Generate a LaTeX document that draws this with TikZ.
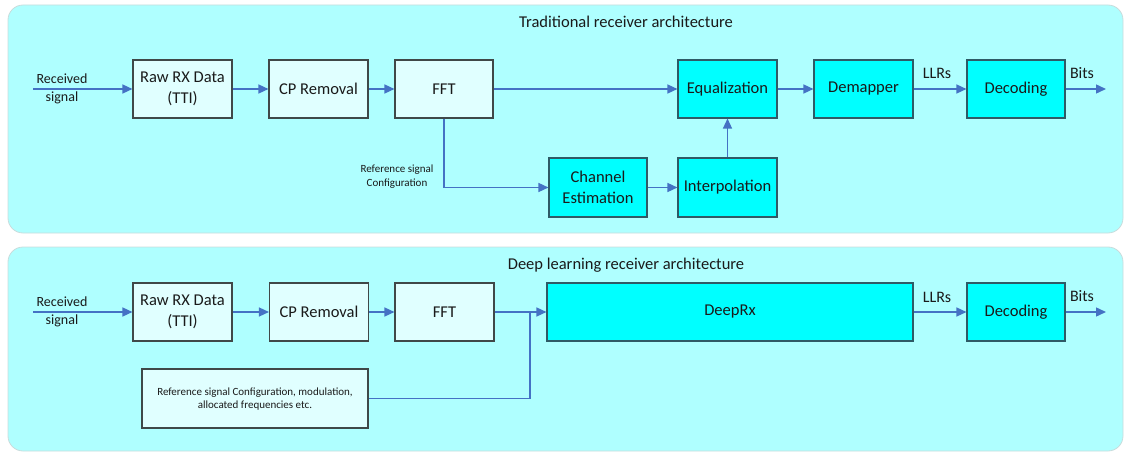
\documentclass[tikz,border=0pt]{standalone}
\usepackage{fontspec}
\setmainfont{Carlito}
\usetikzlibrary{arrows.meta}
\definecolor{panelfill}{HTML}{AFFFFF}
\definecolor{paneledge}{HTML}{C8DCDC}
\definecolor{lightfill}{HTML}{E0FFFF}
\definecolor{darkfill}{HTML}{00FFFF}
\definecolor{lightedge}{HTML}{404848}
\definecolor{darkedge}{HTML}{2E5A66}
\definecolor{arrowblue}{HTML}{4472C4}
\definecolor{txt}{HTML}{1A1A1A}
\tikzset{
  panel/.style={fill=panelfill, draw=paneledge, line width=0.8pt, rounded corners=15pt},
  lbox/.style={draw=lightedge, fill=lightfill, line width=1.1pt, minimum width=99pt, minimum height=58pt, inner sep=0pt, align=center, text=txt, font=\fontsize{16.5}{20.5}\selectfont},
  dbox/.style={lbox, draw=darkedge, fill=darkfill},
  flow/.style={draw=arrowblue, line width=1.4pt, -{Triangle[length=10pt,width=9pt]}},
  wire/.style={draw=arrowblue, line width=1.4pt},
  lbl/.style={text=txt, align=center, inner sep=0pt, font=\fontsize{14}{17}\selectfont},
  mid/.style={text=txt, align=center, inner sep=0pt, font=\fontsize{16}{19}\selectfont},
  ttl/.style={text=txt, inner sep=0pt, font=\fontsize{16.5}{19}\selectfont},
  small/.style={text=txt, align=center, inner sep=0pt, font=\fontsize{11}{13.5}\selectfont}
}
\begin{document}
\begin{tikzpicture}[x=1pt,y=-1pt]
\useasboundingbox (0,0) rectangle (1125,452);
% panels
\draw[panel] (8,5) rectangle (1123,233);
\draw[panel] (8,247) rectangle (1123,451);
% titles
\node[ttl] (t1) at (626,22) {Traditional receiver architecture};
\node[ttl] (t2) at (626,265) {Deep learning receiver architecture};

% ---------- top: traditional ----------
\coordinate (in1) at (33,89);
\node[lbl] (rs1) at (62,88.5) {Received\\[1pt]signal};
\node[lbox] (raw1) at (182.5,89) {Raw RX Data\\(TTI)};
\node[lbox] (cp1) at (318.5,89) {CP Removal};
\node[lbox, minimum width=98pt] (fft1) at (444,89) {FFT};
\node[dbox] (eq) at (727.5,89) {Equalization};
\node[dbox] (dem) at (863.5,89) {Demapper};
\node[dbox, minimum width=98pt] (dec1) at (1016,89) {Decoding};
\coordinate (out1) at (1106,89);
\node[dbox, minimum width=98pt, minimum height=59pt] (ce) at (598,187.5) {Channel\\Estimation};
\node[dbox, minimum height=59pt] (ip) at (727.5,187.5) {Interpolation};
\node[small] (refsig) at (397,176.5) {Reference signal\\Configuration};
\node[mid] (llr1) at (937,73) {LLRs};
\node[mid] (bits1) at (1082,73) {Bits};

\draw[flow] (in1) -- (raw1);
\draw[flow] (raw1) -- (cp1);
\draw[flow] (cp1) -- (fft1);
\draw[flow] (fft1) -- (eq);
\draw[flow] (eq) -- (dem);
\draw[flow] (dem) -- (dec1);
\draw[flow] (dec1) -- (out1);
\draw[flow] (fft1.south) |- (ce.west);
\draw[flow] (ce) -- (ip);
\draw[flow] (ip) -- (eq);

% ---------- bottom: deep learning ----------
\coordinate (in2) at (33,312);
\node[lbl] (rs2) at (62,312) {Received\\[1pt]signal};
\node[lbox] (raw2) at (182.5,312) {Raw RX Data\\(TTI)};
\node[lbox] (cp2) at (319,312) {CP Removal};
\node[lbox] (fft2) at (444.5,312) {FFT};
\node[dbox, minimum width=366pt] (drx) at (730,312) {DeepRx};
\node[dbox, minimum width=98pt] (dec2) at (1016,312) {Decoding};
\coordinate (out2) at (1106,312);
\node[lbox, minimum width=226pt, minimum height=59pt] (ref) at (255,398.5) {};
\node[small] (reftxt) at (255,399) {Reference signal Configuration, modulation,\\allocated frequencies etc.};
\coordinate (join) at (530,312);
\node[mid] (llr2) at (937,297) {LLRs};
\node[mid] (bits2) at (1082,296) {Bits};

\draw[flow] (in2) -- (raw2);
\draw[flow] (raw2) -- (cp2);
\draw[flow] (cp2) -- (fft2);
\draw[flow] (fft2) -- (drx);
\draw[wire] (ref.east) -| (join);
\draw[flow] (drx) -- (dec2);
\draw[flow] (dec2) -- (out2);
\end{tikzpicture}
\end{document}
